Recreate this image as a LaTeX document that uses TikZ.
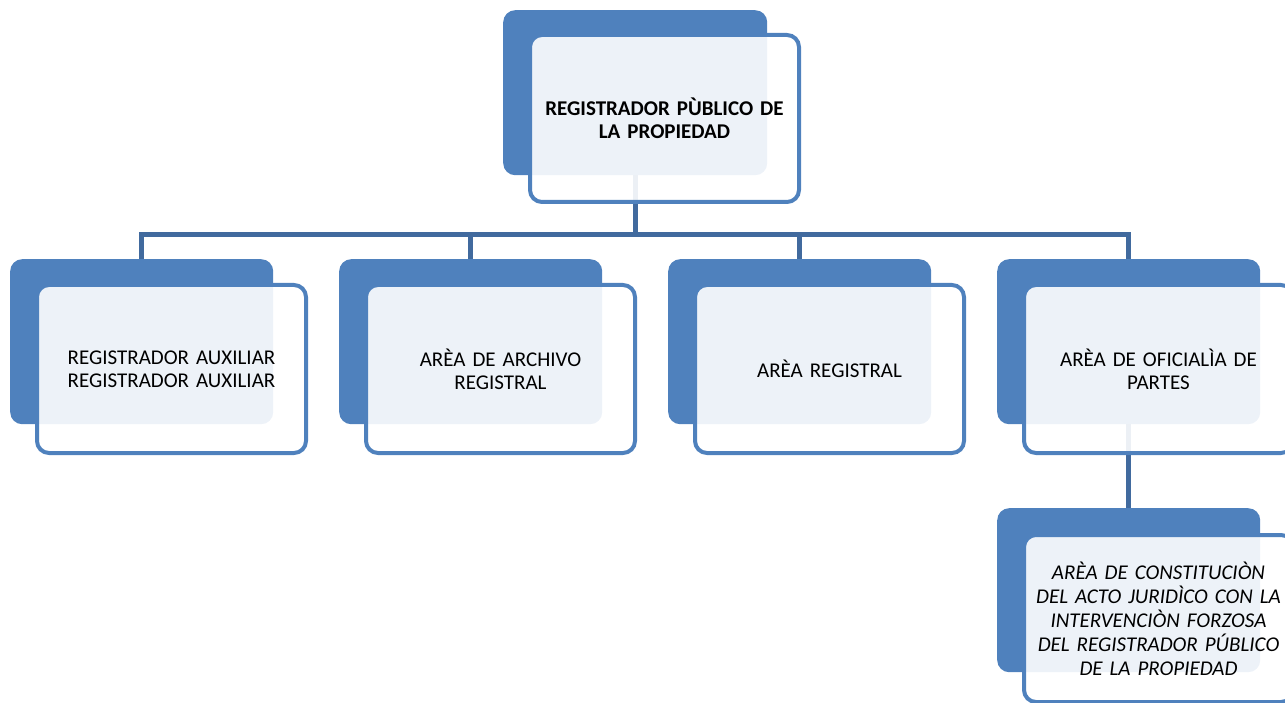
\documentclass[tikz,border=0pt]{standalone}
\usepackage{fontspec}
\setmainfont{Carlito}
\definecolor{accent}{HTML}{4F81BD}
\definecolor{connc}{HTML}{416A9E}
\begin{document}
\begin{tikzpicture}[x=1pt,y=-1pt,
  back/.style={rectangle,rounded corners=12pt,fill=accent,draw=none,inner sep=0pt,
    minimum width=263pt,minimum height=165pt,anchor=north west},
  front/.style={rectangle,rounded corners=12pt,draw=accent,line width=4pt,fill=white,
    fill opacity=0.9,text opacity=1,inner sep=0pt,minimum width=269pt,minimum height=168pt,
    align=center,text width=262pt,font=\fontsize{21}{23}\selectfont},
  conn/.style={draw=connc,line width=5pt}]
\useasboundingbox (0,0) rectangle (1285,703);
\clip (0,0) rectangle (1285,703);
\coordinate (bus) at (0,235);
% back boxes
\node[back,minimum width=264pt] (topb) at (503,10) {};
\node[back] (b1) at (10,259) {};
\node[back] (b2) at (339,259) {};
\node[back] (b3) at (668,259) {};
\node[back] (b4) at (997,259) {};
\node[back,minimum height=164pt] (b5) at (997,508) {};
% connectors
\draw[conn] (topb.south) -- (topb.south |- bus);
\draw[conn] (b1.north) -- (b1.north |- bus) -| (b4.north);
\draw[conn] (b2.north) -- (b2.north |- bus);
\draw[conn] (b3.north) -- (b3.north |- bus);
\draw[conn] (b4.south) -- (b5.north);
% front boxes
\node[front,minimum height=167pt,font=\bfseries\fontsize{21}{23}\selectfont] (topf) at (664.5,118.5) {REGISTRADOR PÙBLICO DE\\LA PROPIEDAD};
\node[front] (f1) at (171.5,369) {REGISTRADOR AUXILIAR\\REGISTRADOR AUXILIAR};
\node[front] (f2) at (500.5,369) {ARÈA DE ARCHIVO\\REGISTRAL};
\node[front] (f3) at (829.5,369) {ARÈA REGISTRAL};
\node[front] (f4) at (1158.5,369) {ARÈA DE OFICIALÌA DE\\PARTES};
\node[front,minimum height=167pt,font=\itshape\fontsize{21}{24}\selectfont] (f5) at (1158.5,618.5) {ARÈA DE CONSTITUCIÒN\\DEL ACTO JURIDÌCO CON LA\\INTERVENCIÒN FORZOSA\\DEL REGISTRADOR PÚBLICO\\DE LA PROPIEDAD};
\end{tikzpicture}
\end{document}
